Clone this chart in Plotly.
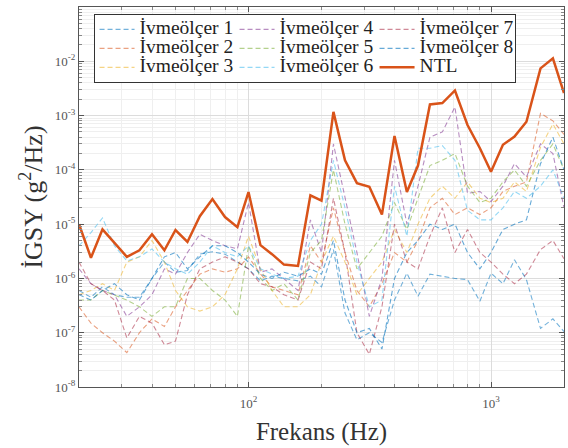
import plotly.graph_objects as go

freq = [20, 22.4, 25, 28, 31.5, 35.5, 40, 45, 50, 56, 63, 71, 80, 90, 100, 112, 125, 140, 160, 180,
        200, 224, 250, 280, 315, 355, 400, 450, 500, 560, 630, 710, 800, 900, 1000, 1120, 1250, 1400,
        1600, 1800, 2000]

ntl = [1.0e-5, 2.4e-6, 8.0e-6, 4.5e-6, 2.5e-6, 3.3e-6, 6.5e-6, 3.3e-6, 7.8e-6, 4.7e-6, 1.4e-5, 2.9e-5,
       1.35e-5, 8.8e-6, 3.9e-5, 4.1e-6, 2.8e-6, 1.8e-6, 1.7e-6, 3.4e-5, 2.7e-5, 1.17e-3, 1.5e-4, 5.7e-5,
       4.9e-5, 1.5e-5, 4.2e-4, 3.9e-5, 1.2e-4, 1.6e-3, 1.7e-3, 2.9e-3, 6.7e-4, 2.5e-4, 9.2e-5, 2.9e-4,
       4.1e-4, 7.7e-4, 7.4e-3, 1.13e-2, 2.6e-3]

acc1 = [6e-7, 4.5e-7, 7e-7, 5e-7, 4.5e-7, 4.5e-7, 1.0e-6, 2.0e-6, 1.3e-6, 1.4e-6, 2.8e-6, 3.1e-6, 2.8e-6,
        2.0e-6, 1.5e-6, 9e-7, 1.1e-6, 1.0e-6, 9e-7, 1.1e-6, 7e-7, 3.4e-6, 2.3e-7, 7.4e-8, 1.0e-7, 6.6e-8,
        4e-7, 1.25e-6, 4.7e-7, 1.2e-6, 1.1e-6, 1.0e-6, 9.5e-7, 3.8e-7, 1.25e-6, 8e-7, 2.2e-6, 9.5e-7,
        1.2e-7, 1.8e-7, 1.05e-7]
acc2 = [3e-7, 1.5e-7, 1.0e-7, 7e-8, 4.3e-8, 1e-7, 1.8e-7, 1.3e-7, 3e-7, 6e-7, 1.2e-6, 1.5e-6, 1.3e-6,
        1.5e-6, 2.5e-6, 1.2e-6, 7e-7, 6e-7, 5e-7, 4e-6, 2e-6, 2e-5, 3e-6, 6e-7, 3e-7, 8e-7, 3e-6, 2e-6,
        5e-6, 2e-5, 3e-5, 1.5e-5, 2e-5, 1.5e-5, 2e-5, 4e-5, 5e-5, 6e-5, 1.1e-3, 8e-4, 4.5e-4]
acc3 = [5e-7, 6e-7, 8e-7, 6e-7, 2e-6, 2.5e-6, 5e-6, 2e-6, 6e-7, 3e-7, 2.5e-7, 3e-7, 5e-7, 1.5e-6, 6e-6,
        1.5e-6, 6e-7, 3e-7, 3e-7, 5e-7, 2e-6, 6e-6, 2e-6, 5e-7, 1e-6, 2e-6, 8e-6, 3e-6, 1e-5, 3e-5, 5e-5,
        3e-5, 6e-5, 3e-5, 2.5e-5, 3e-5, 6e-5, 4e-5, 2.6e-4, 7e-4, 3e-4]
acc4 = [1.5e-6, 8e-7, 6e-7, 5e-7, 2e-7, 3e-7, 5e-7, 1.5e-6, 1.2e-6, 3e-6, 6.5e-6, 5e-6, 4e-6, 3.5e-6,
        2.5e-5, 1.3e-6, 1.5e-6, 1e-6, 6e-7, 1.2e-5, 3e-6, 3e-4, 3e-5, 3e-6, 2e-7, 1e-6, 1.5e-4, 1e-5,
        5e-5, 4e-4, 5e-4, 1.44e-3, 3.7e-5, 4e-5, 2.6e-5, 5e-5, 1.3e-4, 7.4e-5, 3e-4, 2e-4, 2e-5]
acc5 = [4e-7, 4e-7, 6e-7, 5e-7, 4e-7, 3e-7, 2e-7, 3e-7, 3e-7, 1e-6, 1e-6, 6e-7, 4e-7, 2e-7, 4e-6, 1e-6,
        6e-7, 8e-7, 4e-7, 3e-6, 5e-6, 1e-4, 1e-5, 1.5e-6, 3e-6, 6e-6, 2.5e-5, 8e-6, 3e-5, 1.2e-4, 1.5e-4,
        2e-4, 5e-5, 2.5e-5, 3e-5, 6e-5, 1e-4, 5e-5, 1.5e-4, 3e-4, 1e-4]
acc6 = [4e-6, 7e-6, 1.3e-5, 4e-6, 2.1e-6, 2.5e-6, 3.5e-6, 2e-6, 1.5e-6, 1.2e-6, 2e-6, 4e-6, 3e-6, 2.5e-6,
        4e-6, 1.5e-6, 1.2e-6, 1e-6, 1.1e-6, 5e-6, 1e-5, 1.5e-4, 2e-5, 2e-6, 3e-7, 4e-7, 5e-5, 6e-6,
        2.5e-4, 2.5e-4, 2.8e-4, 1.5e-4, 1.8e-5, 1.2e-5, 1.2e-5, 2e-5, 4e-5, 3e-5, 5e-5, 1e-4, 3e-5]
acc7 = [2e-6, 8e-7, 6e-7, 4e-7, 8e-8, 2e-7, 1.5e-7, 6e-8, 7e-8, 5e-7, 1.5e-6, 2e-6, 2.5e-6, 2e-6, 1.5e-6,
        8e-7, 7e-7, 5e-7, 4e-7, 2e-6, 1.5e-6, 3e-5, 3e-6, 1e-7, 4e-8, 3e-7, 1e-5, 2e-6, 1.5e-6, 6e-6,
        2e-5, 3e-6, 8e-6, 3e-6, 2e-6, 1.2e-6, 8e-7, 1.2e-6, 3.4e-6, 5e-6, 2.3e-6]
acc8 = [5e-7, 4e-7, 6e-7, 8e-7, 5e-7, 4e-7, 1e-6, 2.5e-6, 3e-6, 1.5e-6, 2.5e-6, 4e-6, 4e-6, 3e-6, 2e-6,
        1.2e-6, 1e-6, 1.3e-6, 1.1e-6, 1.5e-6, 1.2e-6, 5e-6, 4e-7, 1e-7, 1.2e-7, 5e-8, 1e-6, 3e-6, 5e-6,
        1e-5, 8e-6, 1e-5, 3e-6, 1.5e-6, 3e-6, 8e-6, 1e-5, 1.2e-5, 1.3e-4, 4e-4, 1e-4]

names = ["İvmeölçer 1", "İvmeölçer 2", "İvmeölçer 3", "İvmeölçer 4",
         "İvmeölçer 5", "İvmeölçer 6", "İvmeölçer 7", "İvmeölçer 8"]
series = [acc1, acc2, acc3, acc4, acc5, acc6, acc7, acc8]
colors = ["rgba(0,114,189,0.55)", "rgba(217,83,25,0.55)", "rgba(237,177,32,0.55)",
          "rgba(126,47,142,0.55)", "rgba(119,172,48,0.55)", "rgba(77,190,238,0.6)",
          "rgba(162,20,47,0.5)", "rgba(0,114,189,0.6)"]
ranks = [1, 4, 7, 2, 5, 8, 3, 6]

y_ticks = [1e-8, 1e-7, 1e-6, 1e-5, 1e-4, 1e-3, 1e-2, 1e-1]
y_ticktext = ["10<sup>-8</sup>", "10<sup>-7</sup>", "10<sup>-6</sup>", "10<sup>-5</sup>",
              "10<sup>-4</sup>", "10<sup>-3</sup>", "10<sup>-2</sup>", "10<sup>-1</sup>"]
x_ticks = [100, 1000]
x_ticktext = ["10<sup>2</sup>", "10<sup>3</sup>"]

SERIF = "Liberation Serif, Times New Roman, serif"


def legend_label(text):
    return '<span style="font-size:19.5px">' + text + '</span>'


fig = go.Figure()
for name, s, c, r in zip(names, series, colors, ranks):
    fig.add_trace(go.Scatter(x=freq, y=s, mode="lines", name=legend_label(name), legendrank=r,
                             line=dict(color=c, width=1.1, dash="5px,3px")))
fig.add_trace(go.Scatter(x=freq, y=ntl, mode="lines", name=legend_label("NTL"), legendrank=9,
                         line=dict(color="#D95319", width=2.5)))

axis_common = dict(showline=True, linecolor="#555", linewidth=1, mirror="allticks",
                   ticks="inside", ticklen=5, tickcolor="#555",
                   showgrid=True, gridcolor="#dcdcdc", gridwidth=1, zeroline=False,
                   tickfont=dict(family=SERIF, size=13, color="#555"))
minor_common = dict(dtick="D1", ticks="inside", ticklen=3, tickcolor="#888", showgrid=True,
                    gridcolor="#efefef")

fig.update_xaxes(type="log", range=[1.30103, 3.30103], tickvals=x_ticks, ticktext=x_ticktext,
                 minor=minor_common, ticklabelstandoff=4,
                 title=dict(text="Frekans (Hz)", font=dict(family=SERIF, size=25, color="#333"),
                            standoff=12),
                 **axis_common)
fig.update_yaxes(type="log", range=[-8, -1], tickvals=y_ticks, ticktext=y_ticktext,
                 minor=minor_common,
                 title=dict(text="İGSY (g<sup>2</sup>/Hz)", font=dict(family=SERIF, size=26, color="#333"),
                            standoff=4),
                 **axis_common)

fig.update_layout(
    width=568, height=448,
    margin=dict(l=79, r=4, t=7, b=61),
    paper_bgcolor="white", plot_bgcolor="white",
    showlegend=True,
    legend=dict(orientation="h", x=0.03, y=0.982, xanchor="left", yanchor="top",
                bgcolor="white", bordercolor="#333", borderwidth=1,
                font=dict(family=SERIF, size=12, color="#222"),
                itemwidth=35, entrywidth=90, tracegroupgap=0,
                traceorder="normal"),
)

fig.write_html("out.html")
